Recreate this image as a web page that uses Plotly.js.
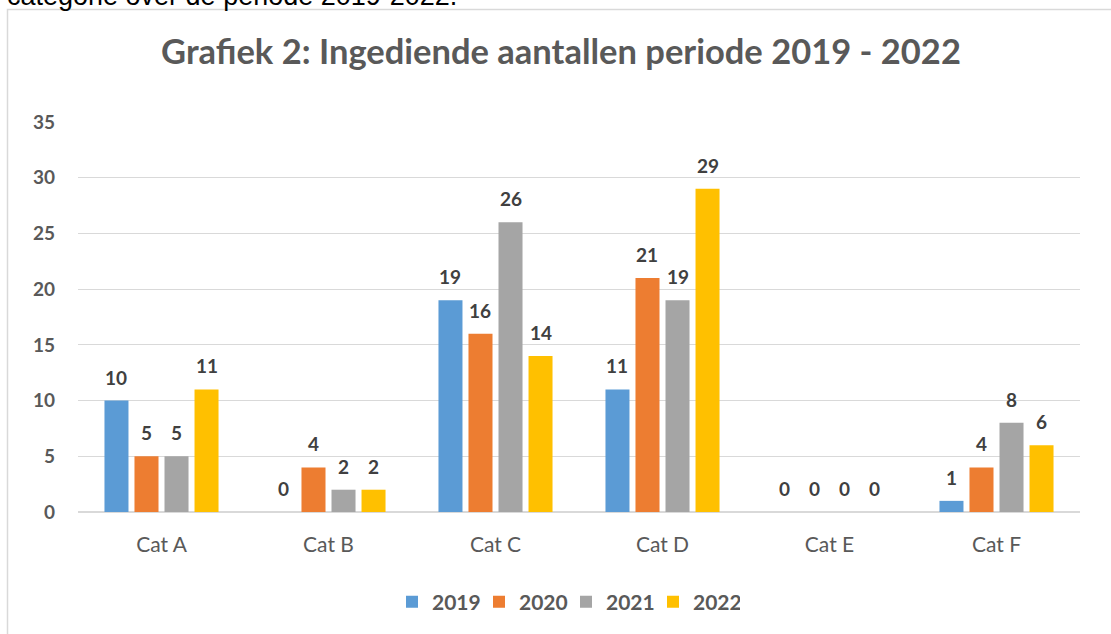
<!DOCTYPE html>
<html>
<head>
<meta charset="utf-8">
<script src="https://cdn.plot.ly/plotly-3.0.1.min.js"></script>
<style>
  html, body { margin: 0; padding: 0; background: #fff; }
  #graph { width: 1111px; height: 634px; }
</style>
</head>
<body>
<div id="graph"></div>
<script>
// categorieen en aantallen per jaar
const categorieen = ['Cat A', 'Cat B', 'Cat C', 'Cat D', 'Cat E', 'Cat F'];
const jaren = ['2019', '2020', '2021', '2022'];
const aantal2019 = [10, 0, 19, 11, 0, 1];
const aantal2020 = [5, 4, 16, 21, 0, 4];
const aantal2021 = [5, 2, 26, 19, 0, 8];
const aantal2022 = [11, 2, 14, 29, 0, 6];
const yTicks = [0, 5, 10, 15, 20, 25, 30, 35];

const kleuren = ['#5B9BD5', '#ED7D31', '#A5A5A5', '#FFC000'];
const reeksen = [aantal2019, aantal2020, aantal2021, aantal2022];

const grijs = '#595959';
const donker = '#404040';
const font = 'Lato, "Open Sans", sans-serif';

// maten van het plotgebied
const W = 1111, H = 634;
const marge = {l: 78, r: 31, t: 122, b: 122};
const bargap = 0.281;
const plotW = W - marge.l - marge.r;
const plotH = H - marge.t - marge.b;
const slot = plotW / categorieen.length * (1 - bargap) / jaren.length;

const traces = reeksen.map((vals, i) => ({
    type: 'bar',
    x: categorieen,
    y: vals,
    name: jaren[i],
    marker: {color: kleuren[i]},
    hoverinfo: 'skip'
}));

// labels boven de staven
const labels = [];
reeksen.forEach((vals, i) => {
    vals.forEach((v, j) => {
        labels.push({
            x: categorieen[j], y: v, xref: 'x', yref: 'y',
            text: '<b>' + v + '</b>',
            showarrow: false,
            yanchor: 'bottom',
            xshift: (i - 1.5) * slot,
            yshift: 10,
            font: {family: font, size: 19, color: donker}
        });
    });
});

// afgesneden tekst boven de grafiek
labels.push({
    text: 'categorie over de periode 2019-2022.',
    xref: 'paper', yref: 'paper',
    x: (5 - marge.l) / plotW, y: (plotH + marge.t - 13) / plotH,
    xanchor: 'left', yanchor: 'bottom',
    showarrow: false,
    font: {family: 'Liberation Sans, Arial, sans-serif', size: 27, color: '#000'}
});

const layout = {
    width: W, height: H,
    margin: marge,
    paper_bgcolor: '#fff',
    plot_bgcolor: '#fff',
    barmode: 'group',
    bargap: bargap,
    bargroupgap: 0.2,
    showlegend: true,
    title: {
        text: '<b>Grafiek 2: Ingediende aantallen periode 2019 - 2022</b>',
        font: {family: font, size: 34.5, color: grijs},
        x: 561 / W, xanchor: 'center', xref: 'container',
        y: 1 - 52 / H, yanchor: 'middle', yref: 'container'
    },
    xaxis: {
        type: 'category',
        tickfont: {family: font, size: 21, color: grijs},
        showgrid: false,
        showline: false,
        ticks: '',
        ticklabelstandoff: 18
    },
    yaxis: {
        range: [0, 35],
        tickvals: yTicks,
        ticktext: yTicks.map(t => '<b>' + t + '</b>'),
        tickfont: {family: font, size: 19, color: grijs},
        gridcolor: '#D9D9D9',
        gridwidth: 1,
        zeroline: true,
        zerolinecolor: '#D9D9D9',
        zerolinewidth: 1.5,
        showline: false,
        ticks: '',
        ticklabelstandoff: 22
    },
    legend: {
        orientation: 'h',
        x: (566 - marge.l) / plotW, xanchor: 'center',
        y: -90 / plotH, yanchor: 'middle',
        font: {family: font, size: 21, color: grijs, weight: 'bold'},
        itemwidth: 30,
        entrywidth: 42,
        entrywidthmode: 'pixels',
        traceorder: 'normal'
    },
    annotations: labels,
    shapes: [{
        type: 'rect', xref: 'paper', yref: 'paper',
        x0: (7.5 - marge.l) / plotW, x1: 1.1,
        y0: -0.5, y1: (plotH + marge.t - 9.5) / plotH,
        line: {color: '#D9D9D9', width: 1.5},
        layer: 'below'
    }]
};

Plotly.newPlot('graph', traces, layout, {displayModeBar: false, responsive: false});
</script>
</body>
</html>
